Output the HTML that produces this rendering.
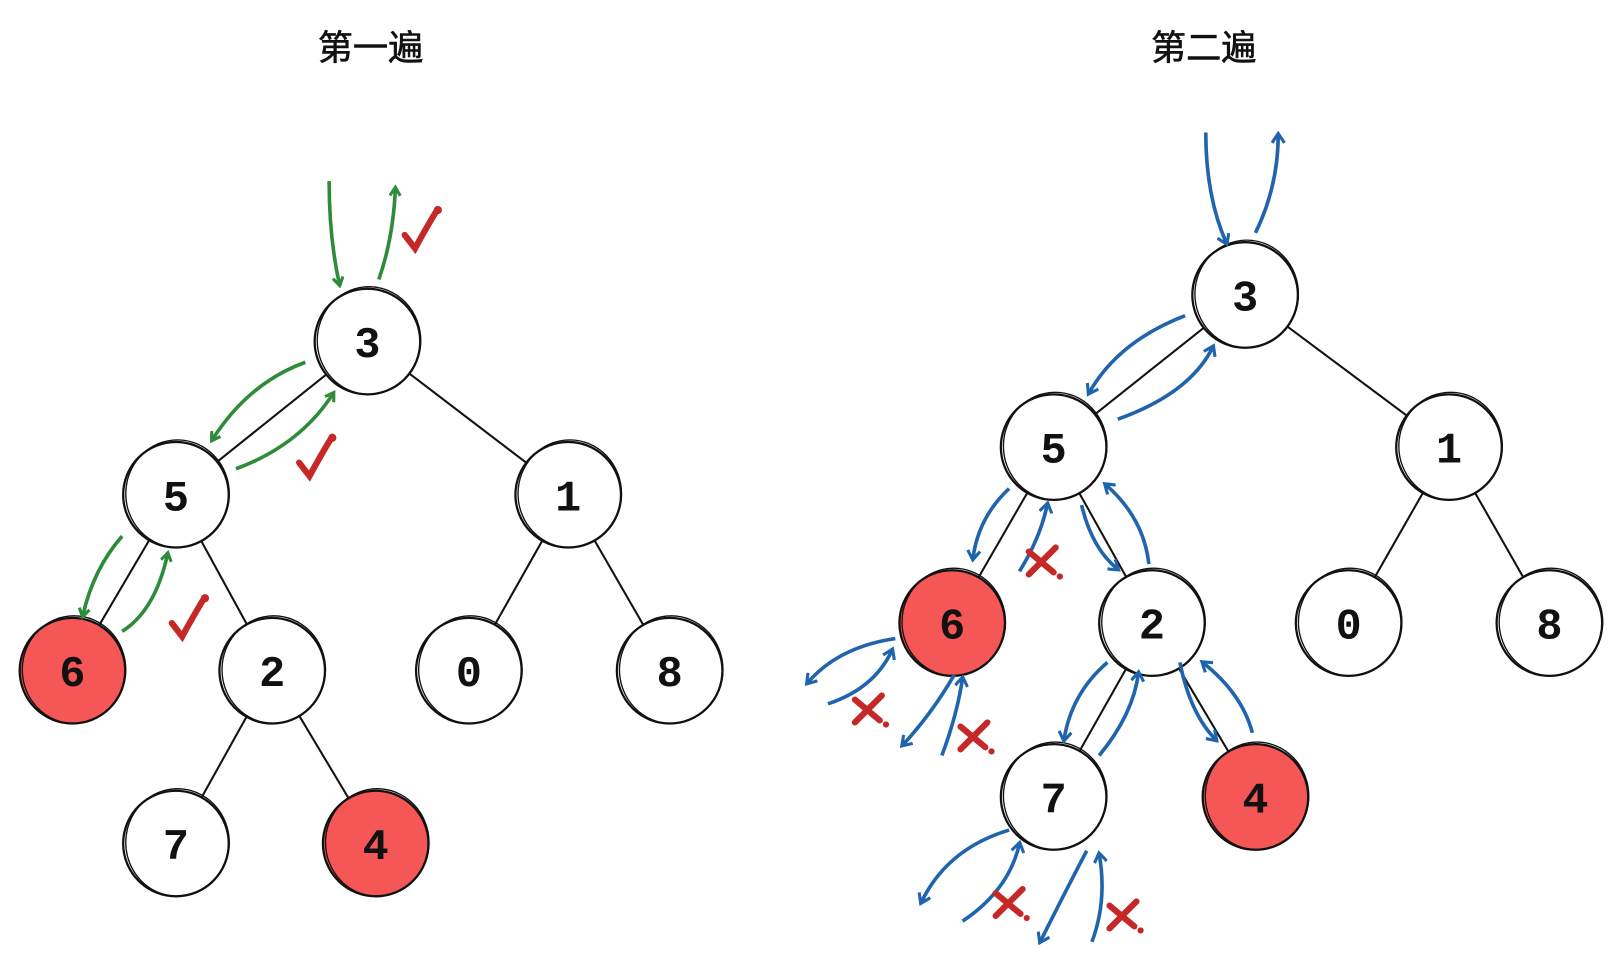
<!DOCTYPE html>
<html><head><meta charset="utf-8"><style>
html,body{margin:0;padding:0;background:#fff;}
svg{display:block}
.t{font-family:"Liberation Sans","Noto Sans CJK SC",sans-serif;font-size:34px;font-weight:normal;fill:#111;stroke:#111;stroke-width:0.6}
.d{font-family:"Liberation Mono","DejaVu Sans Mono",monospace;font-size:42px;font-weight:bold;fill:#111}
</style></head><body>
<svg id="s" width="1616" height="959" viewBox="0 0 1616 959">
<defs>
<marker id="ag" markerWidth="12" markerHeight="12" refX="8" refY="6" orient="auto" markerUnits="userSpaceOnUse"><path d="M1,1 L9,6 L1,11" fill="none" stroke="#2e8b3a" stroke-width="3"/></marker>
<marker id="ab" markerWidth="14" markerHeight="14" refX="9" refY="7" orient="auto" markerUnits="userSpaceOnUse"><path d="M1,1 L10,7 L1,13" fill="none" stroke="#1f64ad" stroke-width="3"/></marker>
</defs>
<g transform="scale(1.035)">
<text class="t" x="358" y="58" text-anchor="middle">第一遍</text>
<text class="t" x="1163" y="58" text-anchor="middle">第二遍</text>
<g id="edges"></g><g id="nodes"></g><g id="arrows"></g><g id="marks"></g>
</g>
</svg>
<script>
const nodeLabels=["3","5","1","6","2","0","8","7","4"];
const nodeRed=[0,0,0,1,0,0,0,0,1];
const leftX=[355,170,549,70,263,453,647,170,363];
const leftY=[330,478,478,648,648,648,648,815,815];
const rightX=[1203,1018,1400,920,1113,1303,1497,1018,1213];
const rightY=[285,432,432,602,602,602,602,770,770];
const edgeList=[[0,1],[0,2],[1,3],[1,4],[2,5],[2,6],[4,7],[4,8]];
const NS="http://www.w3.org/2000/svg";
const R=51;
function mk(tag,attrs,parent){const e=document.createElementNS(NS,tag);for(const k in attrs)e.setAttribute(k,attrs[k]);parent.appendChild(e);return e;}
function drawTree(xs,ys,side){
  const eg=document.getElementById('edges'),ng=document.getElementById('nodes');
  edgeList.forEach(([a,b])=>{
    const dx=xs[b]-xs[a],dy=ys[b]-ys[a],L=Math.hypot(dx,dy);
    const l=mk('line',{x1:xs[a]+dx/L*R,y1:ys[a]+dy/L*R,x2:xs[b]-dx/L*R,y2:ys[b]-dy/L*R,stroke:'#111','stroke-width':2},eg);
    
    
  });
  nodeLabels.forEach((lab,i)=>{
    const g=mk('g',{},ng);
    
    
    mk('circle',{cx:xs[i],cy:ys[i],r:R,fill:nodeRed[i]?'#f55656':'#fff',stroke:'#111','stroke-width':2.2},g);
    mk('ellipse',{cx:xs[i]+1.5,cy:ys[i]-1,rx:R-1,ry:R+1,fill:'none',stroke:'#111','stroke-width':1.3},g);
    const t=mk('text',{x:xs[i],y:ys[i]+15,'text-anchor':'middle',class:'d'},g);t.textContent=lab;
  });
}
drawTree(leftX,leftY,'left');
drawTree(rightX,rightY,'right');
const greenArrows=["M318,175 Q318,230 328,275","M366,270 Q380,230 382,182","M295,350 Q240,370 205,425","M228,453 Q290,430 322,380","M118,518 Q90,550 80,595","M118,610 Q150,590 162,535"];
const blueArrows=["M1165,128 Q1165,190 1185,235","M1213,225 Q1235,180 1235,130","M1145,305 Q1080,330 1052,380","M1080,405 Q1150,380 1172,335","M975,472 Q945,500 940,540","M985,552 Q1005,520 1012,487","M1045,488 Q1055,530 1080,550","M1110,545 Q1105,500 1068,468","M865,617 Q810,625 780,660","M800,680 Q845,665 862,628","M922,652 Q900,690 872,720","M910,730 Q925,690 930,655","M1070,640 Q1035,670 1028,715","M1062,730 Q1095,690 1100,650","M1140,640 Q1150,690 1175,715","M1210,708 Q1200,670 1162,640","M975,802 Q915,820 890,872","M930,890 Q975,860 985,815","M1050,822 Q1030,860 1005,910","M1055,910 Q1070,870 1062,825"];
const ag=document.getElementById('arrows');
greenArrows.forEach((d,i)=>{const p=mk('path',{d:d,fill:'none',stroke:'#2e8b3a','stroke-width':3.5,'marker-end':'url(#ag)'},ag);

});
blueArrows.forEach((d,i)=>{const p=mk('path',{d:d,fill:'none',stroke:'#1f64ad','stroke-width':3.5,'marker-end':'url(#ab)'},ag);

});
const checks=[[405,225],[303,445],[180,600]];
const crosses=[[1008,543],[840,686],[942,712],[976,873],[1086,885]];
const mg=document.getElementById('marks');
checks.forEach(([x,y],i)=>{const g=mk('g',{},mg);


mk('path',{d:`M${x-14},${y+2} L${x-4},${y+15} Q${x+4},${y} ${x+16},${y-20}`,fill:'none',stroke:'#c62828','stroke-width':6,'stroke-linecap':'round'},g);
mk('circle',{cx:x+18,cy:y-22,r:4,fill:'#c62828'},g);});
crosses.forEach(([x,y],i)=>{const g=mk('g',{},mg);


mk('path',{d:`M${x-14},${y-10} L${x+10},${y+10} M${x+12},${y-14} L${x-14},${y+12}`,fill:'none',stroke:'#c62828','stroke-width':6,'stroke-linecap':'round'},g);
mk('circle',{cx:x+16,cy:y+14,r:3,fill:'#c62828'},g);});
</script>
</body></html>
